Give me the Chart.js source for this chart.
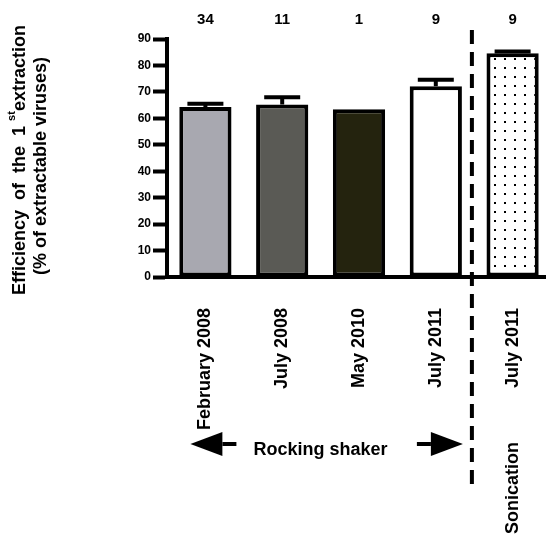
<!DOCTYPE html>
<html>
<head>
<meta charset="utf-8">
<script src="https://cdn.jsdelivr.net/npm/chart.js@4.4.1/dist/chart.umd.min.js"></script>
<style>
  html, body { margin: 0; padding: 0; background: #fff; overflow: hidden; }
  #wrap { width: 551px; height: 535px; }
</style>
</head>
<body>
<div id="wrap"><canvas id="myChart" width="551" height="535"></canvas></div>
<script>
// data
var labels = ['February 2008', 'July 2008', 'May 2010', 'July 2011', 'July 2011'];
var values = [64.3, 65.2, 63.4, 72.1, 84.6];
var errors = [1.2, 2.8, 0, 2.5, 0.7];
var counts = [34, 11, 1, 9, 9];
var groupLabels = ['Rocking shaker', 'Sonication'];
var yTitle1 = ['Efficiency  of  the  1 ', 'st', 'extraction'];
var yTitle2 = '(% of extractable viruses)';

var FONT = '"Liberation Sans", Arial, sans-serif';

function dotPattern(ctx) {
  var c = document.createElement('canvas');
  c.width = 10; c.height = 9;
  var p = c.getContext('2d');
  p.fillStyle = '#fff';
  p.fillRect(0, 0, 10, 9);
  p.fillStyle = '#000';
  p.fillRect(4, 4, 2, 2);
  return ctx.createPattern(c, 'repeat');
}

function arrow(ctx, tipX, y, dir) {
  // dir -1 = pointing left, 1 = pointing right
  var head = 32, half = 12, shaft = 14;
  ctx.beginPath();
  ctx.moveTo(tipX, y);
  ctx.lineTo(tipX - dir * head, y - half);
  ctx.lineTo(tipX - dir * head, y + half);
  ctx.closePath();
  ctx.fill();
  ctx.fillRect(Math.min(tipX - dir * head, tipX - dir * (head + shaft)), y - 2, shaft, 4);
}

var extras = {
  id: 'extras',
  afterDatasetsDraw: function(chart) {
    var ctx = chart.ctx;
    var ys = chart.scales.y;
    var bars = chart.getDatasetMeta(0).data;
    ctx.save();
    ctx.strokeStyle = '#000';
    ctx.lineWidth = 4;
    bars.forEach(function(bar, i) {
      if (!errors[i]) return;
      var top = ys.getPixelForValue(values[i] + errors[i]);
      ctx.beginPath();
      ctx.moveTo(bar.x, bar.y);
      ctx.lineTo(bar.x, top);
      ctx.moveTo(bar.x - 18, top);
      ctx.lineTo(bar.x + 18, top);
      ctx.stroke();
    });
    ctx.restore();
  },
  afterDraw: function(chart) {
    var ctx = chart.ctx;
    var xs = chart.scales.x;
    var bars = chart.getDatasetMeta(0).data;
    ctx.save();
    ctx.fillStyle = '#000';
    ctx.strokeStyle = '#000';

    // n per bar
    ctx.font = 'bold 15px ' + FONT;
    ctx.textAlign = 'center';
    ctx.textBaseline = 'middle';
    bars.forEach(function(bar, i) {
      ctx.fillText(String(counts[i]), bar.x, 20);
    });

    // dashed separator
    var sepX = xs.getPixelForValue(3.47);
    ctx.lineWidth = 4;
    ctx.setLineDash([14, 8]);
    ctx.beginPath();
    ctx.moveTo(sepX, 30);
    ctx.lineTo(sepX, 486);
    ctx.stroke();
    ctx.setLineDash([]);

    // rocking shaker with arrows
    var ay = 444;
    arrow(ctx, bars[0].x - 15, ay, -1);
    arrow(ctx, sepX - 9, ay, 1);
    ctx.font = 'bold 18px ' + FONT;
    ctx.textAlign = 'center';
    ctx.textBaseline = 'middle';
    ctx.fillText(groupLabels[0], (bars[0].x + bars[3].x) / 2, 450);

    // sonication, vertical
    ctx.save();
    ctx.translate(bars[4].x, 442);
    ctx.rotate(-Math.PI / 2);
    ctx.textAlign = 'right';
    ctx.fillText(groupLabels[1], 0, 0);
    ctx.restore();

    // y axis title (two lines, with superscript)
    var big = 'bold 18px ' + FONT, small = 'bold 11px ' + FONT;
    ctx.font = big;
    var w0 = ctx.measureText(yTitle1[0]).width;
    var w2 = ctx.measureText(yTitle1[2]).width;
    ctx.font = small;
    var w1 = ctx.measureText(yTitle1[1]).width;
    var total = w0 + w1 + w2;
    ctx.save();
    ctx.translate(20, 160);
    ctx.rotate(-Math.PI / 2);
    ctx.textAlign = 'left';
    ctx.textBaseline = 'middle';
    var lx = -total / 2;
    ctx.font = big;
    ctx.fillText(yTitle1[0], lx, 0);
    ctx.font = small;
    ctx.fillText(yTitle1[1], lx + w0, -8);
    ctx.font = big;
    ctx.fillText(yTitle1[2], lx + w0 + w1, 0);
    ctx.restore();

    ctx.save();
    ctx.translate(41, 166);
    ctx.rotate(-Math.PI / 2);
    ctx.font = big;
    ctx.textAlign = 'center';
    ctx.textBaseline = 'middle';
    ctx.fillText(yTitle2, 0, 0);
    ctx.restore();

    ctx.restore();
  }
};

var ctx = document.getElementById('myChart').getContext('2d');

var data = {
  labels: labels,
  datasets: [{
    data: values,
    backgroundColor: ['#a8a8b0', '#5a5a55', '#24230e', '#ffffff', dotPattern(ctx)],
    borderColor: '#000',
    borderWidth: 4,
    borderSkipped: false,
    categoryPercentage: 1,
    barPercentage: 0.68
  }]
};

var config = {
  type: 'bar',
  data: data,
  options: {
    responsive: false,
    animation: false,
    layout: { padding: { top: 39, right: 0, bottom: 0, left: 0 } },
    plugins: {
      legend: { display: false },
      tooltip: { enabled: false }
    },
    scales: {
      x: {
        grid: { drawOnChartArea: false, drawTicks: false },
        border: { width: 4, color: '#000' },
        ticks: {
          autoSkip: false,
          maxRotation: 90,
          minRotation: 90,
          padding: 31,
          color: '#000',
          font: { family: FONT, size: 18, weight: 'bold' }
        },
        afterFit: function(scale) {
          scale.height = 258;
          scale.paddingLeft = 0;
          scale.paddingRight = 0;
        }
      },
      y: {
        min: 0,
        max: 90,
        grid: { drawOnChartArea: false, tickLength: 14, tickWidth: 4, tickColor: '#000' },
        border: { width: 4, color: '#000' },
        ticks: {
          stepSize: 10,
          padding: 2,
          color: '#000',
          font: { family: FONT, size: 12, weight: 'bold' }
        },
        afterFit: function(scale) { scale.width = 167; }
      }
    }
  },
  plugins: [extras]
};

var myChart = new Chart(ctx, config);
</script>
</body>
</html>
